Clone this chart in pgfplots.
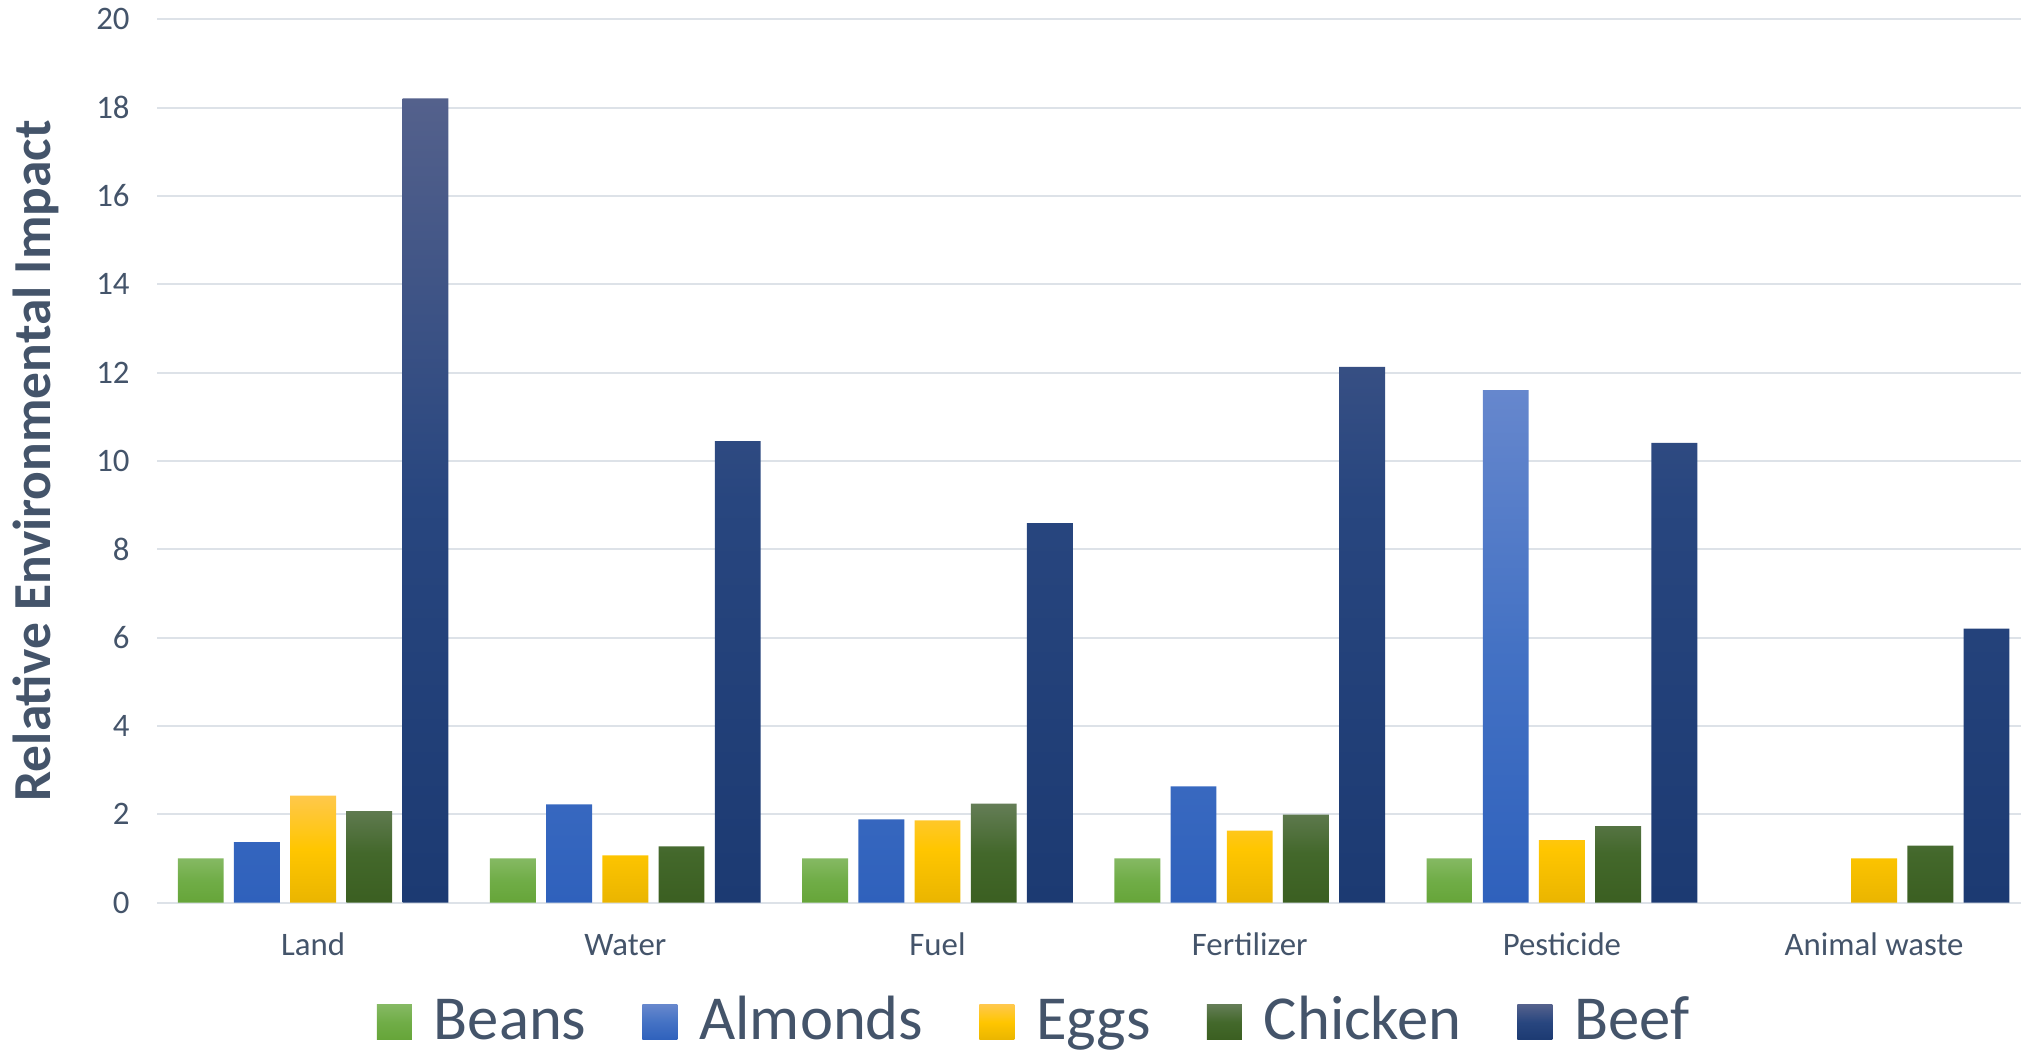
\documentclass[border=0pt]{standalone}
\usepackage{pgfplots}
\pgfplotsset{compat=1.18}
\usepackage{fontspec}
\setmainfont{Carlito}

\definecolor{txt}{HTML}{44546A}
\definecolor{gridc}{HTML}{DDE2E8}
% gradient stops: top / middle / bottom
\definecolor{beanT}{HTML}{85B963}\definecolor{beanM}{HTML}{70AD47}\definecolor{beanB}{HTML}{66A539}
\definecolor{almT}{HTML}{6687CD}\definecolor{almM}{HTML}{4472C4}\definecolor{almB}{HTML}{2F61BC}
\definecolor{eggT}{HTML}{FFC84B}\definecolor{eggM}{HTML}{FFC600}\definecolor{eggB}{HTML}{EAB500}
\definecolor{chkT}{HTML}{647D56}\definecolor{chkM}{HTML}{43682B}\definecolor{chkB}{HTML}{3B5F21}
\definecolor{befT}{HTML}{54618C}\definecolor{befM}{HTML}{28467F}\definecolor{befB}{HTML}{1C3A72}

\pgfplotsset{
  gbar/.style n args={3}{
    ybar, draw=none, bar width=0.147,
    top color=#1, bottom color=#3, middle color=#2,
    legend image code/.code={%
      \shade[top color=#1, bottom color=#3, middle color=#2]
        (0pt,0pt) rectangle (17.5pt,17.5pt);}
  }
}

\begin{document}
\begin{tikzpicture}
\useasboundingbox (0,0) rectangle (1010.5pt,527pt);
\begin{scope}
\clip (0,0) rectangle (1010.5pt,527pt);
\begin{axis}[
  at={(78.5pt,75.75pt)}, anchor=south west,
  scale only axis, width=936.6pt, height=441.6pt,
  xmin=-0.5, xmax=5.5, ymin=0, ymax=20,
  clip=false,
  xtick={0,...,5},
  xticklabels={Land,Water,Fuel,Fertilizer,Pesticide,Animal waste},
  ytick={0,2,...,20},
  axis line style={draw=none},
  tick style={draw=none},
  ymajorgrids,
  grid style={gridc, line width=1pt},
  /pgf/number format/assume math mode=true,
  tick label style={font=\fontsize{16.4}{20}\selectfont, text=txt},
  yticklabel style={anchor=east, inner sep=0pt, xshift=-13.5pt},
  xticklabel style={anchor=base, inner sep=0pt, yshift=-26.5pt},
  legend style={
    at={(0.4677,-0.1325)}, anchor=center,
    draw=none, fill=none, inner sep=0pt,
    font=\fontsize{31.3}{37}\selectfont, text=txt,
    nodes={inner sep=0pt, anchor=base west},
    /tikz/every odd column/.append style={column sep=11pt},
    /tikz/every even column/.append style={column sep=28pt},
  },
  legend columns=5,
]
\addplot[gbar={beanT}{beanM}{beanB}, bar shift=-0.36] coordinates
  {(0,1) (1,1) (2,1) (3,1) (4,1)};
\addlegendentry{Beans}
\addplot[gbar={almT}{almM}{almB}, bar shift=-0.18] coordinates
  {(0,1.37) (1,2.22) (2,1.88) (3,2.63) (4,11.6)};
\addlegendentry{Almonds}
\addplot[gbar={eggT}{eggM}{eggB}, bar shift=0] coordinates
  {(0,2.42) (1,1.07) (2,1.86) (3,1.63) (4,1.41) (5,1)};
\addlegendentry{Eggs}
\addplot[gbar={chkT}{chkM}{chkB}, bar shift=0.18] coordinates
  {(0,2.07) (1,1.27) (2,2.24) (3,1.99) (4,1.73) (5,1.29)};
\addlegendentry{Chicken}
\addplot[gbar={befT}{befM}{befB}, bar shift=0.36] coordinates
  {(0,18.21) (1,10.45) (2,8.59) (3,12.13) (4,10.41) (5,6.2)};
\addlegendentry{Beef}

\node[rotate=90, anchor=base, text=txt,
      font=\fontsize{26.75}{30}\selectfont\bfseries]
  at (axis description cs:-0.0566,0.5) {Relative Environmental Impact};
\end{axis}
\end{scope}
\end{tikzpicture}
\end{document}
